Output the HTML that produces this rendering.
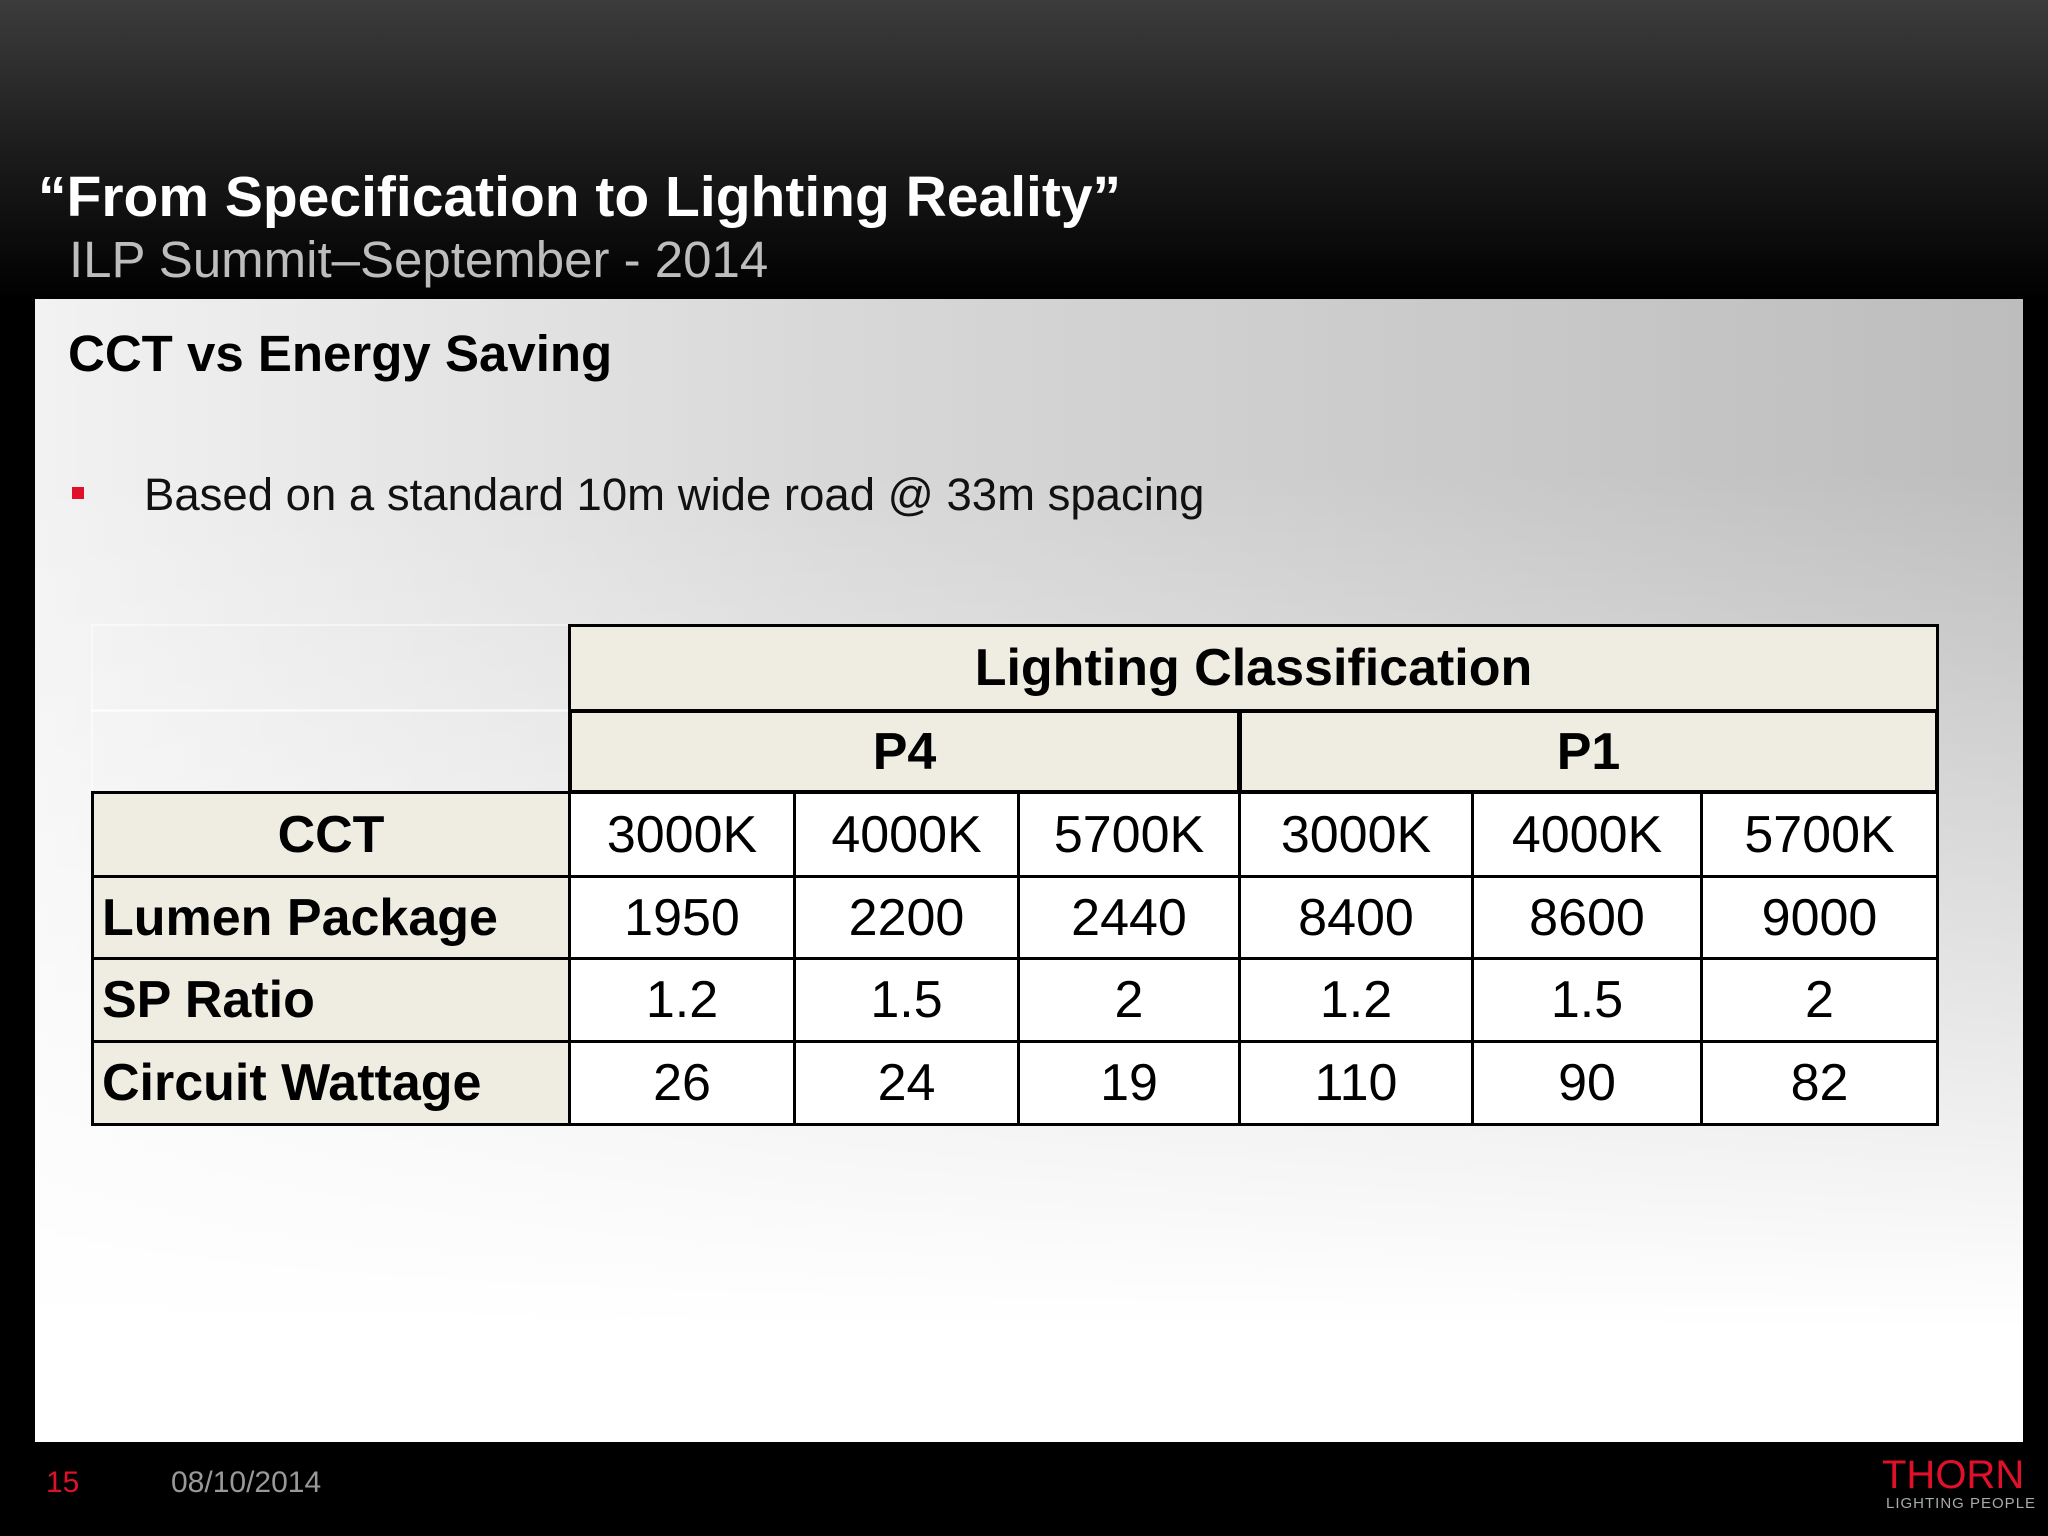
<!DOCTYPE html>
<html><head><meta charset="utf-8"><style>
*{margin:0;padding:0;box-sizing:border-box}
body{width:2048px;height:1536px;overflow:hidden;position:relative;background:linear-gradient(180deg,#3c3c3c 0px,#1a1a1a 160px,#000 300px,#000 1536px);font-family:"Liberation Sans",sans-serif}
.abs{position:absolute}
#panel{left:35px;top:299px;width:1988px;height:1143px;background:linear-gradient(180deg,rgba(255,255,255,0) 15%,rgba(255,255,255,0.6) 60%,rgba(255,255,255,1) 90%),linear-gradient(90deg,#f2f2f2 0%,#d8d8d8 40%,#bdbdbd 100%)}
.c{position:absolute;display:flex;align-items:center;justify-content:center;font-family:"Liberation Sans Narrow","Liberation Sans",sans-serif;font-size:52px;color:#000;border:3px solid #000;background:#fff}
.h{background:#efece1;font-weight:bold}
.l{justify-content:flex-start;padding-left:8px}
</style></head><body>
<div class="abs" style="left:38px;top:164px;color:#fff;font-size:57px;font-weight:bold">“From Specification to Lighting Reality”</div>
<div class="abs" style="left:69px;top:230px;color:#bdbdbd;font-size:51px">ILP Summit–September - 2014</div>
<div id="panel" class="abs"></div>
<div class="abs" style="left:68px;top:324px;font-size:51px;font-weight:bold;color:#000">CCT vs Energy Saving</div>
<div class="abs" style="left:72px;top:487px;width:12px;height:12px;background:#e0102a"></div>
<div class="abs" style="left:144px;top:469px;font-size:45.5px;color:#111">Based on a standard 10m wide road @ 33m spacing</div>
<div id="tbl"></div>
<div class="abs" style="left:46px;top:1466px;font-size:30px;color:#e0102a">15</div>
<div class="abs" style="left:171px;top:1466px;font-size:30px;color:#999">08/10/2014</div>
<div class="abs" style="left:1882px;top:1453px;font-size:40px;color:#e0102a">THORN</div>
<div class="abs" style="left:1886px;top:1495px;font-size:15px;color:#aaa;letter-spacing:1px">LIGHTING PEOPLE</div>
<script>
const rowLabels=["CCT","Lumen Package","SP Ratio","Circuit Wattage"];
const cctRow=["3000K","4000K","5700K","3000K","4000K","5700K"];
const lumenRow=["1950","2200","2440","8400","8600","9000"];
const spRow=["1.2","1.5","2","1.2","1.5","2"];
const wattRow=["26","24","19","110","90","82"];
const groups=["P4","P1"];
const xs=[91,568,793,1017,1238,1471,1700,1936];
const ys=[624,709,791,875,957,1040,1123];
const t=document.getElementById('tbl');
function cell(x0,y0,x1,y1,txt,cls,name){const d=document.createElement('div');d.className='c '+cls;d.style.left=x0+'px';d.style.top=y0+'px';d.style.width=(x1-x0+3)+'px';d.style.height=(y1-y0+3)+'px';d.textContent=txt;


t.appendChild(d);return d;}
for(let i=0;i<2;i++){const e=cell(xs[0],ys[i],xs[1],ys[i+1],'','','empty-corner-cell');e.style.background='transparent';e.style.border='2px solid rgba(255,255,255,0.5)';}
cell(xs[1],ys[0],xs[7],ys[1],'Lighting Classification','h','header-lighting-classification');
const p4=cell(xs[1],ys[1],xs[4],ys[2],groups[0],'h','header-p4');
p4.style.borderWidth='4px';
const p1=cell(xs[4],ys[1],xs[7],ys[2],groups[1],'h','header-p1');
p1.style.borderWidth='4px';
const rows=[cctRow,lumenRow,spRow,wattRow];
rows.forEach((r,ri)=>{
 cell(xs[0],ys[ri+2],xs[1],ys[ri+3],rowLabels[ri],'h'+(ri>0?' l':''),'row-label');
 r.forEach((v,ci)=>cell(xs[ci+1],ys[ri+2],xs[ci+2],ys[ri+3],v,'','value-cell'));
});
</script>
</body></html>
